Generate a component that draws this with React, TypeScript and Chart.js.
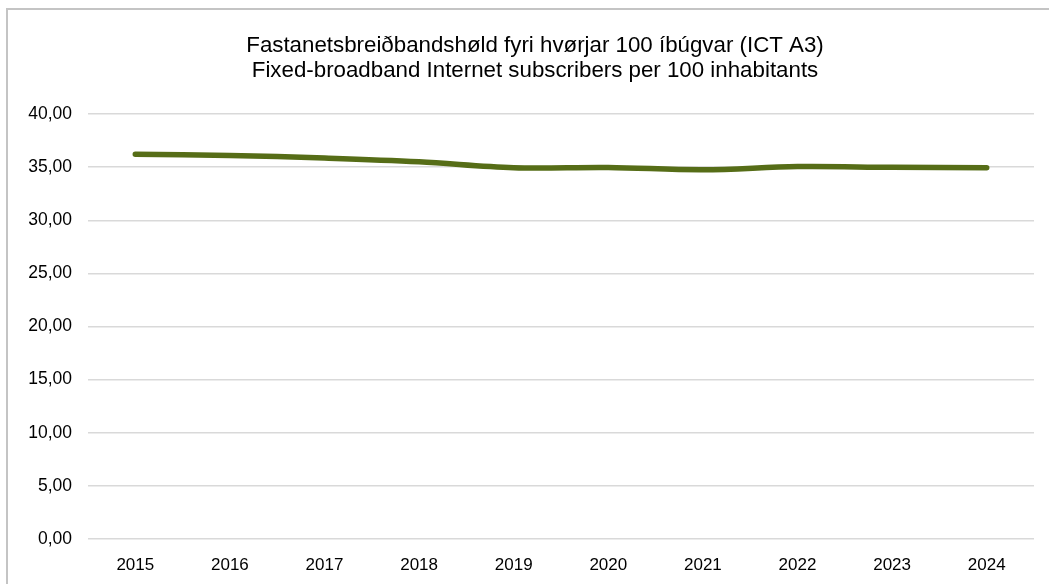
import React, { useEffect, useRef } from "react";
import { Chart, registerables } from "chart.js";

Chart.register(...registerables);

const titleLines = [
  "Fastanetsbreiðbandshøld fyri hvørjar 100 íbúgvar (ICT A3)",
  "Fixed-broadband Internet subscribers per 100 inhabitants",
];
const years = ["2015", "2016", "2017", "2018", "2019", "2020", "2021", "2022", "2023", "2024"];
const subscribers = [36.22, 36.1, 35.85, 35.5, 34.95, 34.97, 34.75, 35.05, 34.98, 34.95];
const yMin = 0;
const yMax = 40;
const yStep = 5;

const FONT = "'Liberation Sans', Arial, sans-serif";

const titlePlugin = {
  id: "frameTitle",
  afterDraw(chart: any) {
    const ctx = chart.ctx;
    ctx.save();
    ctx.fillStyle = "#000";
    ctx.font = `22.3px ${FONT}`;
    ctx.textAlign = "center";
    ctx.textBaseline = "middle";
    ctx.fillText(titleLines[0], 535, 45.5);
    ctx.fillText(titleLines[1], 535, 70.5);
    ctx.restore();
  },
};

export default function App() {
  const ref = useRef<HTMLCanvasElement | null>(null);
  useEffect(() => {
    if (!ref.current) return;
    const chart = new Chart(ref.current, {
      type: "line",
      data: {
        labels: years,
        datasets: [
          {
            data: subscribers,
            borderColor: "#566d17",
            backgroundColor: "#566d17",
            borderWidth: 5.5,
            pointRadius: 0,
            tension: 0.35,
            borderCapStyle: "round",
            fill: false,
          },
        ],
      },
      options: {
        animation: false,
        responsive: false,
        devicePixelRatio: 1,
        layout: { padding: { left: 0, right: 15, top: 114, bottom: 0 } },
        plugins: {
          legend: { display: false },
          tooltip: { enabled: false },
          title: { display: false },
        },
        scales: {
          x: {
            offset: true,
            grid: { display: false },
            border: { display: false },
            ticks: { color: "#000", font: { family: FONT, size: 17 }, padding: 8, maxRotation: 0 },
            afterFit: (s: any) => { s.height = 45; },
          },
          y: {
            min: yMin,
            max: yMax,
            grid: { color: "#d9d9d9", lineWidth: 1.5, drawTicks: false },
            border: { display: false },
            ticks: {
              stepSize: yStep,
              color: "#000",
              font: { family: FONT, size: 17.5 },
              padding: 16,
              callback: (v: any) => Number(v).toFixed(2).replace(".", ","),
            },
            afterFit: (s: any) => { s.width = 88; },
          },
        },
      },
      plugins: [titlePlugin],
    });
    return () => chart.destroy();
  }, []);
  return (
    <div style={{ position: "absolute", left: 0, top: 0, width: 1049, height: 584, overflow: "hidden", background: "#fff" }}>
      <div style={{ position: "absolute", left: 6, top: 8, width: 1100, height: 700, border: "2px solid #c4c4c4" }} />
      <canvas ref={ref} width={1049} height={584} style={{ position: "absolute", left: 0, top: 0, display: "block" }} />
    </div>
  );
}
